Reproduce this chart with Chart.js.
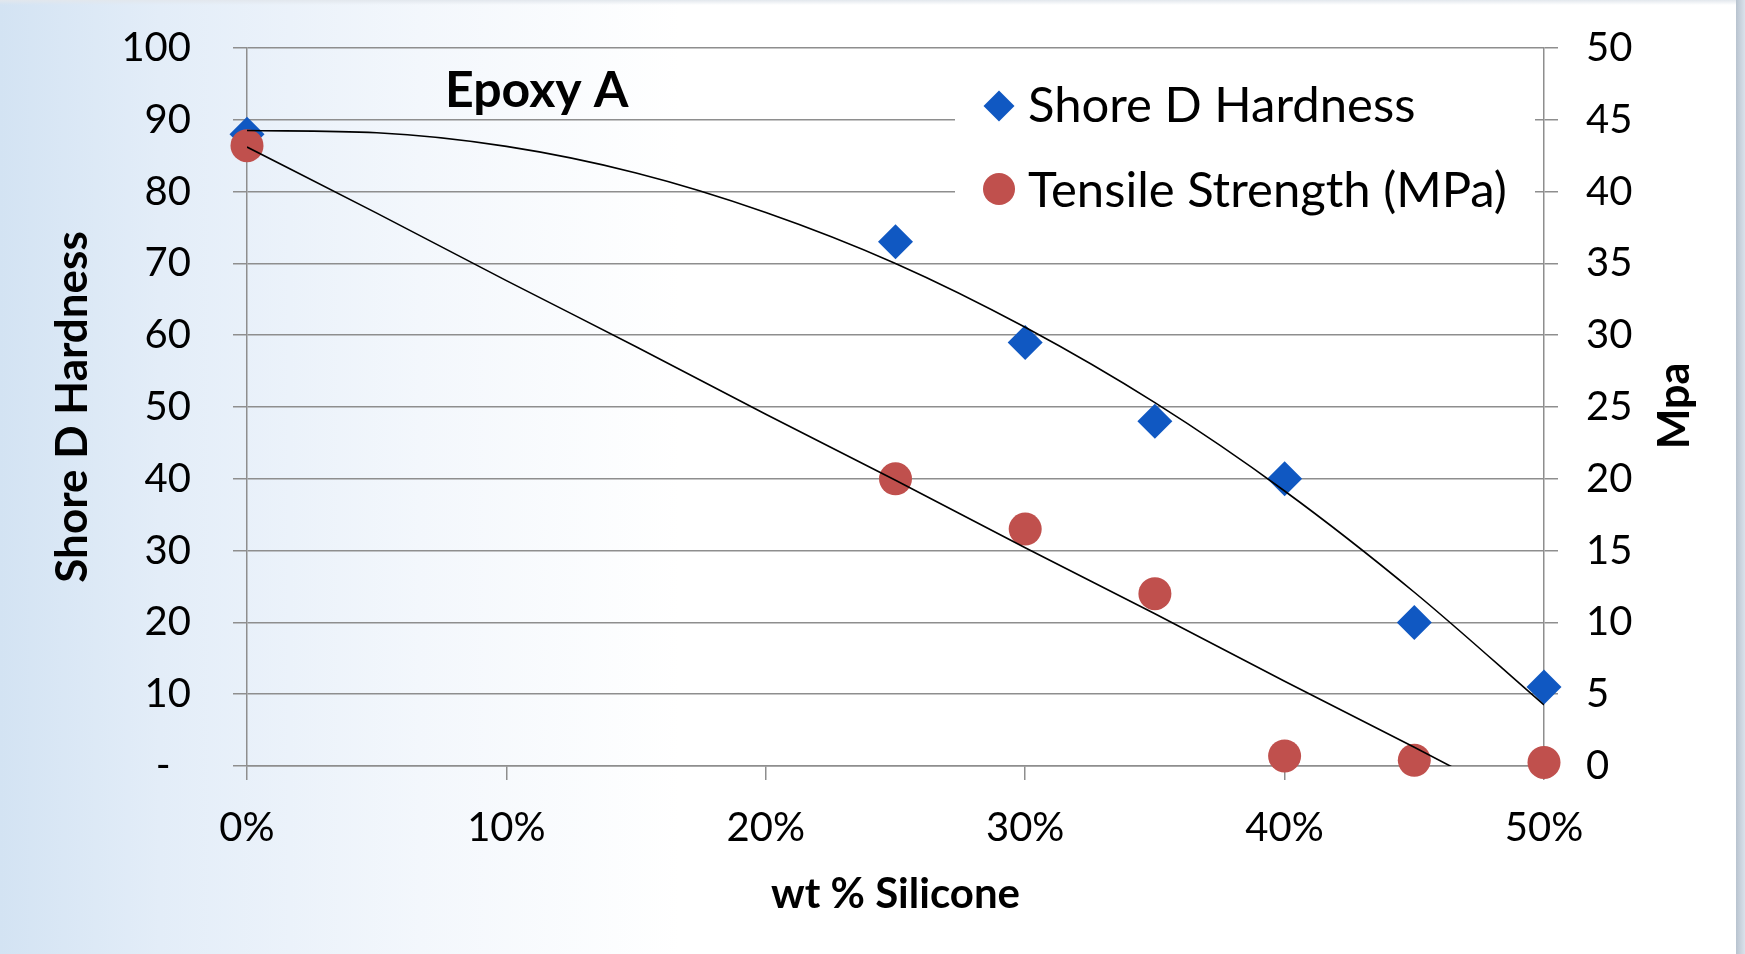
<!DOCTYPE html>
<html>
<head>
<meta charset="utf-8">
<script src="https://cdn.jsdelivr.net/npm/chart.js@4.4.1/dist/chart.umd.min.js"></script>
<style>
html, body { margin: 0; padding: 0; }
body {
  width: 1745px; height: 954px; overflow: hidden; position: relative;
  background: linear-gradient(to right, #d3e3f3 0px, #e3edf8 160px, #f3f7fc 420px, #ffffff 680px);
}
#topEdge { position: absolute; left: 0; top: 0; width: 1736px; height: 5px;
  background: linear-gradient(to bottom, #e2e7ed, rgba(255,255,255,0)); }
#edge { position: absolute; left: 1736px; top: 0; width: 9px; height: 954px;
  background: linear-gradient(to right, #b8c3cf, #dae2eb); }
#wrap { position: absolute; left: 0; top: 0; width: 1745px; height: 954px; }
</style>
</head>
<body>
<div id="topEdge"></div>
<div id="edge"></div>
<div id="wrap"><canvas id="chart" width="1745" height="954"></canvas></div>
<script>
// data
const wtSilicone = [0, 25, 30, 35, 40, 45, 50];          // wt % silicone
const shoreD = [88, 73, 59, 48, 40, 20, 11];             // left axis
const tensileMPa = [43.2, 20, 16.5, 12, 0.7, 0.4, 0.25]; // right axis

// trendlines as drawn in the picture, read every 5 %
const trendX = [0, 5, 10, 15, 20, 25, 30, 35, 40, 45, 50];
const shoreTrend = [88.5, 88.2, 86.3, 82.6, 77.1, 70.0, 61.1, 50.6, 38.3, 24.2, 8.5];
const tensileTrend = [43.1, 38.5, 33.8, 29.2, 24.5, 19.9, 15.2, 10.6, 5.9, 1.3, -3.4];

const chartTitle = 'Epoxy A';
const seriesNames = ['Shore D Hardness', 'Tensile Strength (MPa)'];
const rightTitle = 'Mpa';

const FONT = 'Lato, sans-serif';
const BLUE = '#1058c2';
const RED = '#c0504d';
const GRID = '#8e8e8e';

const pts = (xs, ys) => xs.map((x, i) => ({ x: x, y: ys[i] }));

// title, right axis title and in-plot legend
const overlay = {
  id: 'overlay',
  beforeDatasetsDraw(chart) {
    const ctx = chart.ctx;
    ctx.save();
    ctx.fillStyle = '#ffffff';
    ctx.fillRect(955, 72, 580, 150);

    // diamond
    ctx.fillStyle = BLUE;
    ctx.beginPath();
    ctx.moveTo(999 - 15.5, 106);
    ctx.lineTo(999, 106 - 15.5);
    ctx.lineTo(999 + 15.5, 106);
    ctx.lineTo(999, 106 + 15.5);
    ctx.closePath();
    ctx.fill();
    // circle
    ctx.fillStyle = RED;
    ctx.beginPath();
    ctx.arc(999, 189, 16, 0, Math.PI * 2);
    ctx.fill();

    ctx.fillStyle = '#000';
    ctx.textBaseline = 'alphabetic';
    ctx.textAlign = 'left';
    ctx.font = '49px ' + FONT;
    ctx.fillText(seriesNames[0], 1028, 122);
    ctx.fillText(seriesNames[1], 1028, 207);

    ctx.font = 'bold 50px ' + FONT;
    ctx.fillText(chartTitle, 445, 107);

    // right axis title reads bottom to top
    ctx.translate(1675, 406);
    ctx.rotate(-Math.PI / 2);
    ctx.textAlign = 'center';
    ctx.textBaseline = 'middle';
    ctx.font = 'bold 43px ' + FONT;
    ctx.fillText(rightTitle, 0, 0);
    ctx.restore();
  }
};

// keep the tick padding from pushing the plot top down
const noVerticalPad = s => { s.paddingTop = 0; s.paddingBottom = 0; };

new Chart(document.getElementById('chart'), {
  type: 'scatter',
  data: {
    datasets: [
      {
        label: 'Shore trend',
        data: pts(trendX, shoreTrend),
        yAxisID: 'y',
        showLine: true,
        borderColor: '#000',
        borderWidth: 1.6,
        pointRadius: 0,
        pointHoverRadius: 0,
        cubicInterpolationMode: 'monotone',
        clip: 0,
        order: 0
      },
      {
        label: 'Tensile trend',
        data: pts(trendX, tensileTrend),
        yAxisID: 'y2',
        showLine: true,
        borderColor: '#000',
        borderWidth: 1.6,
        pointRadius: 0,
        pointHoverRadius: 0,
        cubicInterpolationMode: 'monotone',
        clip: 0,
        order: 0
      },
      {
        label: seriesNames[0],
        data: pts(wtSilicone, shoreD),
        yAxisID: 'y',
        pointStyle: 'rectRot',
        pointRadius: 17.5,
        pointBorderWidth: 0,
        backgroundColor: BLUE,
        borderColor: BLUE,
        clip: false,
        order: 2
      },
      {
        label: seriesNames[1],
        data: pts(wtSilicone, tensileMPa),
        yAxisID: 'y2',
        pointStyle: 'circle',
        pointRadius: 16.5,
        pointBorderWidth: 0,
        backgroundColor: RED,
        borderColor: RED,
        clip: false,
        order: 1
      }
    ]
  },
  options: {
    responsive: false,
    animation: false,
    layout: { autoPadding: false, padding: { top: 48, left: 0, right: 0, bottom: 0 } },
    plugins: {
      legend: { display: false },
      tooltip: { enabled: false }
    },
    scales: {
      x: {
        type: 'linear',
        min: 0,
        max: 50,
        afterFit: s => { s.height = 188; },
        ticks: {
          stepSize: 10,
          color: '#000',
          padding: 24,
          font: { family: FONT, size: 40 },
          callback: v => v + '%'
        },
        grid: { drawOnChartArea: false, color: GRID, lineWidth: 1.5, tickLength: 14 },
        border: { color: GRID, width: 1.5 },
        title: {
          display: true,
          text: 'wt % Silicone',
          color: '#000',
          font: { family: FONT, size: 42, weight: 'bold', lineHeight: 1 },
          padding: { top: 0, bottom: 39 }
        }
      },
      y: {
        position: 'left',
        min: 0,
        max: 100,
        afterFit: s => { s.width = 247; noVerticalPad(s); },
        ticks: {
          stepSize: 10,
          color: '#000',
          padding: 42,
          font: { family: FONT, size: 40 },
          callback: v => v === 0 ? '-  ' : v
        },
        grid: { color: GRID, lineWidth: 1.5, tickLength: 14 },
        border: { color: GRID, width: 1.5 },
        title: {
          display: true,
          text: 'Shore D Hardness',
          color: '#000',
          font: { family: FONT, size: 44, weight: 'bold', lineHeight: 1 },
          padding: { top: 51, bottom: 0 }
        }
      },
      y2: {
        position: 'right',
        min: 0,
        max: 50,
        afterFit: s => { s.width = 201; noVerticalPad(s); },
        ticks: {
          stepSize: 5,
          color: '#000',
          padding: 28,
          font: { family: FONT, size: 40 }
        },
        grid: { drawOnChartArea: false, color: GRID, lineWidth: 1.5, tickLength: 14 },
        border: { color: GRID, width: 1.5 }
      }
    }
  },
  plugins: [overlay]
});
</script>
</body>
</html>
